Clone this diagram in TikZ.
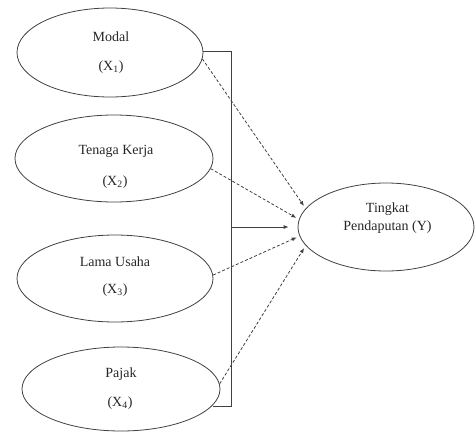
\documentclass[tikz,border=0pt]{standalone}
\usepackage{fontspec}
\setmainfont{Liberation Serif}
\usetikzlibrary{shapes.geometric,arrows.meta}
\definecolor{linec}{HTML}{404040}
\begin{document}
\begin{tikzpicture}[x=1pt,y=-1pt,
  latent/.style={draw=linec, ellipse, line width=0.8pt, inner sep=0pt},
  lbl/.style={font=\fontsize{14}{16}\selectfont, text=black!85, inner sep=0pt},
  bus/.style={draw=linec, line width=0.8pt},
  effect/.style={draw=linec, line width=0.8pt, dash pattern=on 3pt off 2pt,
    -{Latex[length=5pt,width=4pt]}, shorten >=3pt},
  joint/.style={draw=linec, line width=0.8pt,
    -{Latex[length=5pt,width=4pt]}, shorten >=9pt}]
\useasboundingbox (0,0) rectangle (475,432);

% independent variables
\node[latent, minimum width=186pt, minimum height=89pt] (modal)  at (110,52.5) {};
\node[latent, minimum width=198pt, minimum height=87pt] (tenaga) at (114,158.5) {};
\node[latent, minimum width=196pt, minimum height=87pt] (lama)   at (115,278.5) {};
\node[latent, minimum width=198pt, minimum height=84pt] (pajak)  at (121,389) {};
% dependent variable
\node[latent, minimum width=176pt, minimum height=88pt] (dep)    at (386,227) {};

% labels
\node[lbl] (tModal)  at (111,37)  {Modal};
\node[lbl] (tX1)     at (111,67)  {(X\textsubscript{1})};
\node[lbl] (tTenaga) at (116,151) {Tenaga Kerja};
\node[lbl] (tX2)     at (115,182) {(X\textsubscript{2})};
\node[lbl] (tLama)   at (115,262) {Lama Usaha};
\node[lbl] (tX3)     at (115,290) {(X\textsubscript{3})};
\node[lbl] (tPajak)  at (121,374) {Pajak};
\node[lbl] (tX4)     at (120,403) {(X\textsubscript{4})};
\node[lbl] (tDep1)   at (387.5,209) {Tingkat};
\node[lbl] (tDep2)   at (387.5,227) {Pendaputan (Y)};

% collecting line for the joint effect
\coordinate (bt) at (231,51);
\coordinate (bb) at (231,406);
\coordinate (bm) at (231,227);
\path[bus] (bt -| modal.east) -- (bt) -- (bb) -- (bb -| pajak.-10.5);
\path[joint] (bm) -- (dep.west);

% partial effects
\path[effect] (modal.-4)   -- (dep.167);
\path[effect] (tenaga.-6)  -- (dep.175);
\path[effect] (lama.2)     -- (dep.186);
\path[effect] (pajak.3.5)  -- (dep.193.5);
\end{tikzpicture}
\end{document}
